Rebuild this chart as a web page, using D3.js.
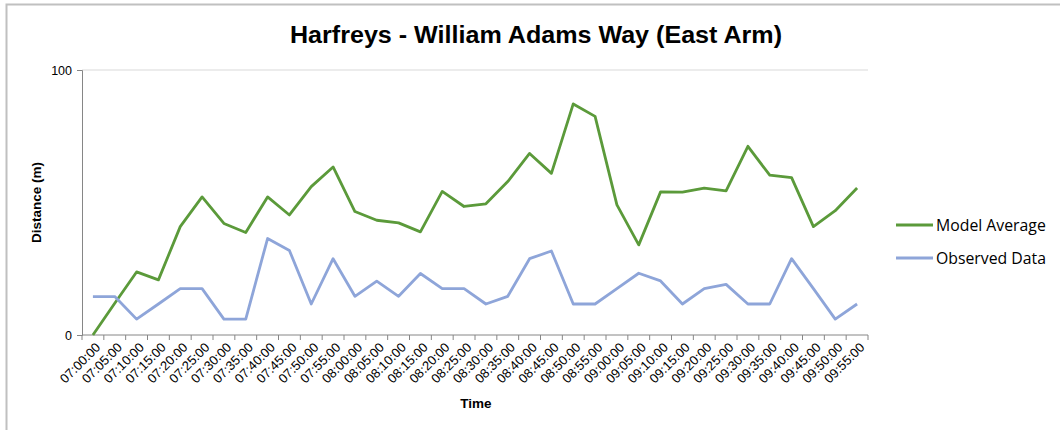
<!DOCTYPE html>
<html>
<head>
<meta charset="utf-8">
<script src="https://cdn.jsdelivr.net/npm/d3@7"></script>
<style>
  body { margin: 0; background: #fff; }
  text { font-family: "Liberation Sans", Arial, sans-serif; }
</style>
</head>
<body>
<div id="chart"></div>
<script>
var times = ["07:00:00","07:05:00","07:10:00","07:15:00","07:20:00","07:25:00","07:30:00","07:35:00",
  "07:40:00","07:45:00","07:50:00","07:55:00","08:00:00","08:05:00","08:10:00","08:15:00","08:20:00",
  "08:25:00","08:30:00","08:35:00","08:40:00","08:45:00","08:50:00","08:55:00","09:00:00","09:05:00",
  "09:10:00","09:15:00","09:20:00","09:25:00","09:30:00","09:35:00","09:40:00","09:45:00","09:50:00","09:55:00"]

var modelAverage = [0, 12, 23.8, 20.8, 40.9, 52.1, 42.1, 38.7, 52.1, 45.3, 56.0, 63.4, 46.6, 43.3, 42.3, 38.9,
  54.2, 48.5, 49.5, 57.9, 68.5, 61.0, 87.2, 82.5, 49.1, 34.0, 54.0, 53.9, 55.4, 54.4, 71.2, 60.3, 59.4,
  40.9, 46.9, 55.5]

var observedData = [14.5, 14.5, 6.0, 11.7, 17.5, 17.5, 6.0, 6.0, 36.4, 31.9, 11.7, 28.8, 14.6, 20.3, 14.6, 23.2,
  17.5, 17.5, 11.7, 14.6, 28.8, 31.7, 11.7, 11.7, 17.5, 23.3, 20.4, 11.7, 17.5, 19.1, 11.7, 11.7, 28.8,
  17.5, 6.0, 11.7]

var seriesNames = ["Model Average", "Observed Data"]
var seriesColors = ["#5b9a3a", "#8ea5d9"]
var yTicks = [0, 100]

var W = 1060, H = 430
var margin = {top: 70, right: 192, bottom: 95, left: 82},
    width = W - margin.left - margin.right,
    height = H - margin.top - margin.bottom

var svg = d3.select("#chart").append("svg")
  .attr("width", W)
  .attr("height", H)

// outer chart border
svg.append("rect")
  .attr("x", 6.5).attr("y", 4.5)
  .attr("width", W + 20).attr("height", H + 20)
  .attr("fill", "none").attr("stroke", "#c0c0c0").attr("stroke-width", 2)

svg.append("text")
  .attr("x", 536).attr("y", 43)
  .attr("text-anchor", "middle")
  .attr("textLength", 492).attr("lengthAdjust", "spacingAndGlyphs")
  .style("font-size", "23px").style("font-weight", "bold")
  .text("Harfreys - William Adams Way (East Arm)")

var g = svg.append("g")
  .attr("transform", "translate(" + margin.left + "," + margin.top + ")")

var x = d3.scaleBand().domain(times).range([0, width])
var y = d3.scaleLinear().domain([0, 100]).range([height, 0])

// gridline at 100
g.append("line")
  .attr("x1", 0).attr("x2", width)
  .attr("y1", y(100)).attr("y2", y(100))
  .attr("stroke", "#d9d9d9")

// y axis
var yAxis = g.append("g")
  .call(d3.axisLeft(y).tickValues(yTicks).tickSize(5).tickPadding(5))
yAxis.select(".domain").attr("stroke", "#868686")
yAxis.selectAll(".tick line").attr("stroke", "#868686")
yAxis.selectAll("text").style("font-size", "12.5px").attr("fill", "#000")

// x axis: ticks between categories, labels centred
var xAxis = g.append("g").attr("transform", "translate(0," + height + ")")
xAxis.append("line")
  .attr("x1", 0).attr("x2", width)
  .attr("stroke", "#868686")
xAxis.selectAll("tick")
  .data(times.concat(["end"]))
  .enter().append("line")
  .attr("x1", function(d){ return d == "end" ? width : x(d) })
  .attr("x2", function(d){ return d == "end" ? width : x(d) })
  .attr("y1", 0).attr("y2", 5)
  .attr("stroke", "#868686")
xAxis.selectAll("lbl")
  .data(times)
  .enter().append("text")
  .attr("transform", function(d){
    return "translate(" + (x(d) + x.bandwidth() / 2 + 5) + ",10) rotate(-45)"
  })
  .attr("text-anchor", "end")
  .attr("dy", "0.35em")
  .style("font-size", "13px")
  .text(function(d){ return d })

var line = d3.line()
  .x(function(d, i){ return x(times[i]) + x.bandwidth() / 2 })
  .y(function(d){ return y(d) })

g.append("path").datum(modelAverage)
  .attr("fill", "none").attr("stroke", seriesColors[0]).attr("stroke-width", 2.8)
  .attr("stroke-linejoin", "round")
  .attr("d", line)
g.append("path").datum(observedData)
  .attr("fill", "none").attr("stroke", seriesColors[1]).attr("stroke-width", 2.8)
  .attr("stroke-linejoin", "round")
  .attr("d", line)

// axis titles
svg.append("text")
  .attr("transform", "translate(41," + (margin.top + height / 2) + ") rotate(-90)")
  .attr("text-anchor", "middle")
  .style("font-size", "13.5px").style("font-weight", "bold")
  .text("Distance (m)")
svg.append("text")
  .attr("x", 476).attr("y", 408)
  .attr("text-anchor", "middle")
  .style("font-size", "13.5px").style("font-weight", "bold")
  .text("Time")

// legend
var legend = svg.selectAll(".legend")
  .data(seriesNames)
  .enter().append("g")
  .attr("transform", function(d, i){ return "translate(896," + (225 + i * 33) + ")" })
legend.append("line")
  .attr("x1", 0).attr("x2", 37)
  .attr("stroke", function(d, i){ return seriesColors[i] })
  .attr("stroke-width", 2.8)
legend.append("text")
  .attr("x", 40).attr("dy", "0.35em")
  .style("font-family", "'Open Sans', sans-serif")
  .style("font-size", "15.8px")
  .text(function(d){ return d })
</script>
</body>
</html>
